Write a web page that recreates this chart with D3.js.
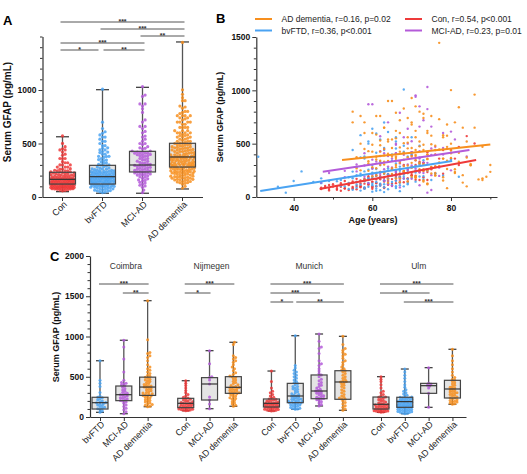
<!DOCTYPE html>
<html><head><meta charset="utf-8">
<script src="https://cdn.jsdelivr.net/npm/d3@7/dist/d3.min.js"></script>
<style>
html,body{margin:0;padding:0;background:#fff;}
svg{display:block;}
</style></head><body>
<svg id="chart" width="527" height="474"></svg>
<script>
// ---------------- categories ----------------
const groups = ["Con", "bvFTD", "MCI-AD", "AD dementia"];
const groupColors = ["#ee3a3a", "#4aa3f2", "#b45bd9", "#f78f1e"];
const centers = ["Coimbra", "Nijmegen", "Munich", "Ulm"];
const centerGroups = [
  ["bvFTD", "MCI-AD", "AD dementia"],
  ["Con", "MCI-AD", "AD dementia"],
  ["Con", "bvFTD", "MCI-AD", "AD dementia"],
  ["Con", "bvFTD", "MCI-AD", "AD dementia"]
];

// ---------------- subject data: [GFAP pg/mL, age years] ----------------
const coimbraBvFTD = [[699,63],[455,66],[420,70],[380,58],[305,72],[262,61],[245,67],[238,55],[228,60],[214,64],[200,57],[190,68],[181,62],[176,59],[168,73],[160,52],[150,40],[142,56],[131,69],[120,63],[110,60],[101,66],[92,58],[76,54],[58,61]];
const coimbraMCI = [[953,71],[870,59],[720,73],[560,68],[455,75],[430,62],[420,70],[410,66],[398,78],[385,64],[370,72],[350,60],[335,67],[320,74],[305,69],[295,58],[285,76],[277,65],[268,71],[260,63],[250,80],[240,56],[232,68],[225,73],[215,61],[205,66],[198,77],[185,53],[170,70],[150,64],[130,59],[110,72],[90,67],[65,75],[41,74]];
const coimbraAD = [[1445,77],[960,86],[800,72],[790,66],[760,57],[740,69],[700,81],[650,63],[620,74],[600,60],[580,78],[560,71],[540,65],[520,84],[505,68],[495,75],[485,62],[470,79],[460,70],[450,58],[440,73],[425,67],[415,82],[405,64],[395,76],[385,71],[378,61],[372,69],[365,80],[355,74],[345,66],[335,59],[325,77],[315,72],[305,63],[298,85],[290,68],[282,75],[275,70],[268,56],[262,79],[255,65],[245,73],[235,62],[225,81],[215,67],[205,76],[195,60],[185,71],[175,88],[165,64],[155,78],[145,69],[135,83],[128,74]];
const nijmegenCon = [[451,79],[420,74],[390,70],[360,81],[330,72],[300,68],[280,76],[260,65],[245,73],[235,62],[228,70],[220,67],[210,64],[200,71],[195,59],[188,66],[180,63],[175,69],[170,58],[165,61],[160,74],[155,57],[150,64],[145,55],[140,60],[135,67],[130,52],[125,58],[120,62],[116,54],[112,49],[108,65],[104,56],[100,60],[95,51],[92,57],[88,48],[84,63],[80,53],[78,55]];
const nijmegenMCI = [[824,74],[660,72],[500,69],[490,66],[460,78],[410,63],[250,71],[211,60],[160,67],[103,65]];
const nijmegenAD = [[928,70],[900,64],[760,61],[740,73],[720,67],[700,55],[680,79],[650,63],[620,71],[600,58],[575,75],[550,66],[530,62],[510,69],[500,80],[490,60],[475,72],[460,65],[445,77],[430,59],[415,68],[400,74],[390,63],[380,70],[372,56],[366,66],[360,78],[352,61],[345,71],[338,64],[330,82],[322,67],[315,59],[308,73],[300,62],[295,69],[288,76],[280,60],[270,65],[260,72],[250,57],[240,68],[230,63],[220,75],[205,61],[190,70],[175,66],[160,58],[145,73],[133,64]];
const munichCon = [[571,84],[440,80],[360,77],[320,73],[300,82],[280,70],[260,75],[245,68],[235,72],[224,66],[218,78],[210,64],[205,70],[198,61],[192,67],[186,73],[180,59],[175,64],[172,69],[170,56],[166,62],[162,71],[158,58],[154,66],[150,53],[146,63],[142,60],[138,68],[134,55],[130,61],[126,57],[124,65],[120,50],[116,59],[112,54],[108,62],[104,48],[100,57],[96,52],[92,60],[88,47],[85,55],[82,58],[78,51],[75,49]];
const munichBvFTD = [[1008,68],[640,60],[610,64],[580,57],[560,70],[540,62],[520,66],[500,59],[480,72],[460,63],[440,55],[425,68],[415,61],[400,65],[380,69],[378,31],[360,58],[350,80],[345,73],[330,62],[315,66],[300,60],[290,71],[280,56],[270,64],[262,67],[255,59],[248,74],[240,42],[232,63],[225,69],[220,76],[218,57],[210,65],[200,61],[200,78],[192,72],[190,82],[185,54],[180,66],[176,60],[175,47],[170,68],[162,58],[155,63],[150,49],[148,51],[140,65],[132,59],[125,62],[118,56],[110,67],[105,61],[100,53],[96,36]];
const munichMCI = [[1031,74],[940,71],[870,60],[850,72],[790,67],[700,64],[660,75],[640,69],[600,78],[570,62],[540,81],[522,70],[500,66],[470,76],[450,63],[430,72],[410,58],[395,68],[380,84],[360,65],[345,71],[333,61],[323,73],[315,67],[305,56],[295,70],[285,64],[275,77],[265,60],[255,69],[245,53],[237,66],[230,72],[225,49],[215,62],[205,75],[190,58],[175,68],[155,63],[137,47]];
const munichAD = [[1002,80],[900,65],[850,71],[830,68],[800,55],[780,73],[760,62],[730,77],[700,58],[680,70],[650,83],[620,66],[600,74],[585,61],[575,79],[560,69],[540,64],[520,72],[500,57],[480,76],[465,67],[450,63],[440,71],[435,80],[425,60],[410,68],[395,74],[380,65],[360,78],[340,62],[320,70],[300,85],[280,66],[260,73],[245,59],[235,81],[225,69],[220,63],[200,76],[180,71],[160,88],[140,67],[120,74],[100,84],[83,79]];
const ulmCon = [[501,86],[470,82],[440,78],[400,76],[360,80],[320,73],[300,71],[280,75],[265,69],[250,72],[245,66],[235,74],[225,68],[215,64],[205,70],[195,62],[185,67],[175,60],[168,65],[160,72],[155,58],[150,63],[145,69],[140,56],[135,61],[130,66],[125,54],[120,59],[115,64],[110,52],[105,57],[100,61],[98,50],[95,55],[92,63],[88,48],[85,58],[82,53],[78,60],[75,47],[72,56],[68,51],[65,54],[62,49],[58,52]];
const ulmBvFTD = [[596,61],[560,66],[520,59],[480,68],[440,63],[400,70],[370,57],[340,65],[320,72],[300,62],[285,67],[270,60],[260,74],[250,64],[245,69],[240,58],[235,66],[230,71],[225,61],[220,76],[215,63],[210,68],[205,56],[200,65],[196,73],[192,60],[188,67],[184,62],[180,70],[176,55],[172,64],[168,69],[164,59],[160,75],[156,63],[152,66],[148,58],[144,71],[140,61],[140,45],[136,67],[132,54],[130,47],[128,64],[124,60],[120,69],[116,57],[112,65],[108,62],[104,52],[100,68],[96,59],[92,63],[88,56],[84,66],[80,61],[76,58],[72,64],[68,55],[64,62],[60,57],[55,67],[50,60],[46,63],[41,38]];
const ulmMCI = [[613,80],[420,70],[410,66],[395,75],[385,62],[360,72],[294,68],[120,64]];
const ulmAD = [[841,82],[760,75],[700,70],[650,86],[600,67],[560,78],[520,64],[490,73],[470,88],[456,69],[440,76],[425,62],[410,80],[395,71],[380,66],[370,84],[360,74],[350,68],[340,79],[330,63],[320,72],[310,85],[300,90],[300,66],[290,77],[280,70],[270,61],[260,81],[250,74],[240,68],[236,90],[225,76],[215,65],[205,83],[195,71],[190,89],[185,78],[175,67],[165,87],[158,73]];

// ---------------- box statistics (min, Q1, median, Q3, max) ----------------
const boxMinA = [50, 35, 35, 75];
const boxQ1A  = [121, 121, 234, 280];
const boxMedA = [165, 190, 299, 374];
const boxQ3A  = [231, 296, 427, 502];
const boxMaxA = [563, 1003, 1025, 1449];
const boxMinC = [58, 41, 128,   78, 103, 133,   75, 96, 137, 83,   58, 41, 120, 158];
const boxQ1C  = [99, 203, 268,  116, 211, 294,  124, 178, 227, 220,  99, 120, 294, 236];
const boxMedC = [178, 277, 372, 170, 410, 369,  170, 261, 323, 435,  158, 191, 389, 348];
const boxQ3C  = [245, 385, 495, 232, 489, 501,  224, 418, 522, 575,  248, 245, 418, 456];
const boxMaxC = [699, 953, 1445, 451, 824, 928, 571, 1010, 1031, 1002, 501, 596, 613, 841];

// ---------------- significance brackets ----------------
const sigA = [["Con","AD dementia",0,"***"],["bvFTD","AD dementia",1,"***"],["MCI-AD","AD dementia",2,"**"],["Con","MCI-AD",3,"***"],["Con","bvFTD",4,"*"],["bvFTD","MCI-AD",4,"**"]];
const sigC = [
  ["Coimbra","bvFTD","AD dementia",0,"***"],["Coimbra","MCI-AD","AD dementia",1,"**"],
  ["Nijmegen","Con","AD dementia",0,"***"],["Nijmegen","Con","MCI-AD",1,"*"],
  ["Munich","Con","AD dementia",0,"***"],["Munich","Con","MCI-AD",1,"***"],["Munich","Con","bvFTD",2,"*"],["Munich","bvFTD","AD dementia",2,"**"],
  ["Ulm","Con","AD dementia",0,"***"],["Ulm","Con","MCI-AD",1,"**"],["Ulm","bvFTD","AD dementia",2,"***"]
];

// ---------------- regression lines (panel B), in order of groups ----------------
const fitAge0 = [46.6, 31.5, 47.4, 52.3];
const fitAge1 = [86.4, 80.3, 84.7, 90.0];
const fitVal0 = [75, 56, 237, 346];
const fitVal1 = [347, 337, 440, 493];
const legendTexts = ["Con, r=0.54, p<0.001", "bvFTD, r=0.36, p<0.001", "MCI-AD, r=0.23, p=0.01", "AD dementia, r=0.16, p=0.02"];
const legendOrder = [3, 1, 0, 2];

// ---------------- tick labels ----------------
const ticksA = [0, 500, 1000];
const ticksB = [0, 500, 1000, 1500];
const ticksAge = [40, 60, 80];
const ticksC = [0, 500, 1000, 1500, 2000];

// ---------------- build lookup ----------------
const centerData = {
  "Coimbra": {"bvFTD": coimbraBvFTD, "MCI-AD": coimbraMCI, "AD dementia": coimbraAD},
  "Nijmegen": {"Con": nijmegenCon, "MCI-AD": nijmegenMCI, "AD dementia": nijmegenAD},
  "Munich": {"Con": munichCon, "bvFTD": munichBvFTD, "MCI-AD": munichMCI, "AD dementia": munichAD},
  "Ulm": {"Con": ulmCon, "bvFTD": ulmBvFTD, "MCI-AD": ulmMCI, "AD dementia": ulmAD}
};
const pooled = groups.map(g => centers.flatMap(c => centerData[c][g] || []));

const FONT = "Arial, 'Liberation Sans', Helvetica, sans-serif";
const AX = "#333";
const svg = d3.select("#chart").attr("font-family", FONT);

function styleAxis(g, fs) {
  g.attr("font-family", FONT).attr("font-size", fs).attr("font-weight", "bold");
  g.select(".domain").attr("stroke", AX).attr("stroke-width", 1.2);
  g.selectAll(".tick line").attr("stroke", AX).attr("stroke-width", 1);
  g.selectAll(".tick text").attr("fill", "#111");
}
function yAxis(x, scale, majors, step) {
  const [d0, d1] = scale.domain();
  const minors = d3.range(d0, d1 + 0.001, step).filter(v => !majors.includes(v));
  const gm = svg.append("g").attr("transform", `translate(${x},0)`)
    .call(d3.axisLeft(scale).tickValues(minors).tickSize(2.5).tickSizeOuter(0).tickFormat(""));
  styleAxis(gm, 8.5); gm.select(".domain").remove();
  const g = svg.append("g").attr("transform", `translate(${x},0)`)
    .call(d3.axisLeft(scale).tickValues(majors).tickSize(4).tickSizeOuter(0).tickPadding(2).tickFormat(d3.format("d")));
  styleAxis(g, 8.5);
}
function swarm(vals, y, d, maxW) {
  const pts = vals.map(v => ({v, y: y(v)})).sort((a, b) => b.y - a.y);
  const placed = [];
  const step = d * 0.5;
  for (const p of pts) {
    let bestOff = 0, bestScore = -1;
    for (let k = 0; ; k++) {
      const off = k === 0 ? 0 : (k % 2 ? 1 : -1) * Math.ceil(k / 2) * step;
      if (Math.abs(off) > maxW) break;
      let md = Infinity;
      for (const q of placed) {
        const dy = q.y - p.y; if (Math.abs(dy) >= d) continue;
        const dx = q.x - off; const dd = dx * dx + dy * dy; if (dd < md) md = dd;
      }
      if (md >= d * d) { bestOff = off; break; }
      if (md > bestScore) { bestScore = md; bestOff = off; }
    }
    p.x = bestOff; placed.push(p);
  }
  return pts;
}
function drawBox(cx, y, st, bw, capW, vals, col, r, sw, maxW) {
  const g = svg.append("g");
  g.append("line").attr("x1", cx).attr("x2", cx).attr("y1", y(st[4])).attr("y2", y(st[0]))
    .attr("stroke", "#555").attr("stroke-width", 1.3);
  [st[0], st[4]].forEach(v => g.append("line").attr("x1", cx - capW / 2).attr("x2", cx + capW / 2)
    .attr("y1", y(v)).attr("y2", y(v)).attr("stroke", "#444").attr("stroke-width", 1.3));
  g.append("rect").attr("x", cx - bw / 2).attr("width", bw).attr("y", y(st[3])).attr("height", y(st[1]) - y(st[3]))
    .attr("fill", "#e4e4e4");
  const pts = swarm(vals, y, sw, maxW);
  g.selectAll("circle.p").data(pts).join("circle").attr("class", "p")
    .attr("cx", d => cx + d.x).attr("cy", d => d.y).attr("r", r).attr("fill", col).attr("fill-opacity", 0.85);
  g.append("rect").attr("x", cx - bw / 2).attr("width", bw).attr("y", y(st[3])).attr("height", y(st[1]) - y(st[3]))
    .attr("fill", "none").attr("stroke", "#444").attr("stroke-width", 1.2);
  g.append("line").attr("x1", cx - bw / 2).attr("x2", cx + bw / 2).attr("y1", y(st[2])).attr("y2", y(st[2]))
    .attr("stroke", "#333").attr("stroke-width", 1.2);
}
function sigBar(x1, x2, yy, stars) {
  svg.append("line").attr("x1", x1).attr("x2", x2).attr("y1", yy).attr("y2", yy)
    .attr("stroke", "#555").attr("stroke-width", 1);
  svg.append("text").attr("x", (x1 + x2) / 2).attr("y", yy + 1.8).attr("text-anchor", "middle")
    .attr("font-size", 7).attr("font-weight", "bold").attr("fill", "#333").text(stars);
}
function rotLabel(x, y, t, fs) {
  svg.append("text").attr("transform", `translate(${x},${y}) rotate(-45)`).attr("text-anchor", "end")
    .attr("font-size", fs).attr("fill", "#1a1a1a").text(t);
}
function yTitle(x, y, fs) {
  svg.append("text").attr("transform", `translate(${x},${y}) rotate(-90)`).attr("text-anchor", "middle")
    .attr("font-size", fs).attr("font-weight", "bold").attr("fill", "#111").text("Serum GFAP (pg/mL)");
}
function panelLetter(x, y, t) {
  svg.append("text").attr("x", x).attr("y", y).attr("font-size", 13).attr("font-weight", "bold").attr("fill", "#000").text(t);
}

// ================= Panel A =================
const yA = d3.scaleLinear().domain([0, 1500]).range([197, 36.5]);
const xA = d3.scaleBand().domain(groups).range([42.5, 202.5]).padding(0);
const cA = g => xA(g) + xA.bandwidth() / 2;
yAxis(42.5, yA, ticksA, 100);
{
  const g = svg.append("g").attr("transform", `translate(0,197)`)
    .call(d3.axisBottom(xA).tickSize(4).tickSizeOuter(0).tickFormat(""));
  styleAxis(g, 9);
}
groups.forEach((g, i) => {
  drawBox(cA(g), yA, [boxMinA[i], boxQ1A[i], boxMedA[i], boxQ3A[i], boxMaxA[i]], 26, 13,
    pooled[i].map(d => d[0]), groupColors[i], 1.6, 2.6, 12.5);
  rotLabel(cA(g) + 5, 205, g, 9);
});
sigA.forEach(([a, b, lvl, s]) => {
  const sameLvlNext = sigA.some(o => o[2] === lvl && o[0] === b);
  const sameLvlPrev = sigA.some(o => o[2] === lvl && o[1] === a);
  sigBar(cA(a) - (sameLvlPrev ? -1 : 2), cA(b) - (sameLvlNext ? 4 : -2), 22 + lvl * 7, s);
});
yTitle(10.5, 112, 10);
panelLetter(3, 25, "A");

// ================= Panel B =================
const yB = d3.scaleLinear().domain([0, 1500]).range([197, 37]);
const xB = d3.scaleLinear().domain([30.5, 91.7]).range([256.3, 497]);
yAxis(256.3, yB, ticksB, 100);
{
  const gm = svg.append("g").attr("transform", `translate(0,197)`)
    .call(d3.axisBottom(xB).tickValues(d3.range(40, 91, 10).filter(v => !ticksAge.includes(v))).tickSize(2.5).tickSizeOuter(0).tickFormat(""));
  styleAxis(gm, 8.5); gm.select(".domain").remove();
  const g = svg.append("g").attr("transform", `translate(0,197)`)
    .call(d3.axisBottom(xB).tickValues(ticksAge).tickSize(4).tickSizeOuter(0).tickPadding(4).tickFormat(d3.format("d")));
  styleAxis(g, 8.5);
}
groups.forEach((g, i) => {
  svg.append("g").selectAll("circle").data(pooled[i]).join("circle")
    .attr("cx", d => xB(d[1])).attr("cy", d => yB(d[0])).attr("r", 1.2)
    .attr("fill", groupColors[i]).attr("fill-opacity", 0.9);
});
groups.forEach((g, i) => {
  svg.append("line").attr("x1", xB(fitAge0[i])).attr("x2", xB(fitAge1[i]))
    .attr("y1", yB(fitVal0[i])).attr("y2", yB(fitVal1[i]))
    .attr("stroke", groupColors[i]).attr("stroke-width", 2);
});
legendOrder.forEach((gi, k) => {
  const col = Math.floor(k / 2), row = k % 2;
  const lx = col === 0 ? 255 : 405, ly = row === 0 ? 19 : 30.5;
  svg.append("line").attr("x1", lx).attr("x2", lx + 17).attr("y1", ly).attr("y2", ly)
    .attr("stroke", groupColors[gi]).attr("stroke-width", 2);
  svg.append("text").attr("x", lx + 26.5).attr("y", ly + 3).attr("font-size", 8.5).attr("fill", "#222").text(legendTexts[gi]);
});
yTitle(223, 117, 9);
svg.append("text").attr("x", 373).attr("y", 223).attr("text-anchor", "middle").attr("font-size", 9)
  .attr("font-weight", "bold").attr("fill", "#111").text("Age (years)");
panelLetter(216, 23, "B");

// ================= Panel C =================
const yC = d3.scaleLinear().domain([0, 2000]).range([417, 256]);
const slots = [];
{
  let pos = 0;
  centers.forEach((c, ci) => {
    centerGroups[ci].forEach(g => { slots.push({c, g, pos}); pos += 1; });
    pos += 0.6;
  });
}
const xC = d3.scaleLinear().domain([-0.42, 15.37]).range([90, 466]);
const slotPos = (c, g) => xC(slots.find(s => s.c === c && s.g === g).pos);
yAxis(90, yC, ticksC, 100);
{
  const g = svg.append("g").attr("transform", `translate(0,417)`)
    .call(d3.axisBottom(xC).tickValues(slots.map(s => s.pos)).tickSize(4).tickSizeOuter(0).tickFormat(""));
  styleAxis(g, 9);
}
slots.forEach((s, i) => {
  const gi = groups.indexOf(s.g);
  drawBox(xC(s.pos), yC, [boxMinC[i], boxQ1C[i], boxMedC[i], boxQ3C[i], boxMaxC[i]], 16, 8,
    centerData[s.c][s.g].map(d => d[0]), groupColors[gi], 1.5, 2.3, 8);
  rotLabel(xC(s.pos) + 5, 425, s.g, 9);
});
centers.forEach((c, ci) => {
  const ps = slots.filter(s => s.c === c).map(s => s.pos);
  svg.append("text").attr("x", xC(d3.mean(ps)) + 2).attr("y", 269).attr("text-anchor", "middle")
    .attr("font-size", 8.5).attr("fill", "#333").text(c);
});
sigC.forEach(([c, a, b, lvl, s]) => {
  const sameLvlNext = sigC.some(o => o[0] === c && o[3] === lvl && o[1] === b);
  const sameLvlPrev = sigC.some(o => o[0] === c && o[3] === lvl && o[2] === a);
  sigBar(slotPos(c, a) - (sameLvlPrev ? -1 : 1), slotPos(c, b) - (sameLvlNext ? 2 : -1), 284 + lvl * 9, s);
});
yTitle(58.5, 337, 9);
panelLetter(50, 261, "C");
</script>
</body></html>
